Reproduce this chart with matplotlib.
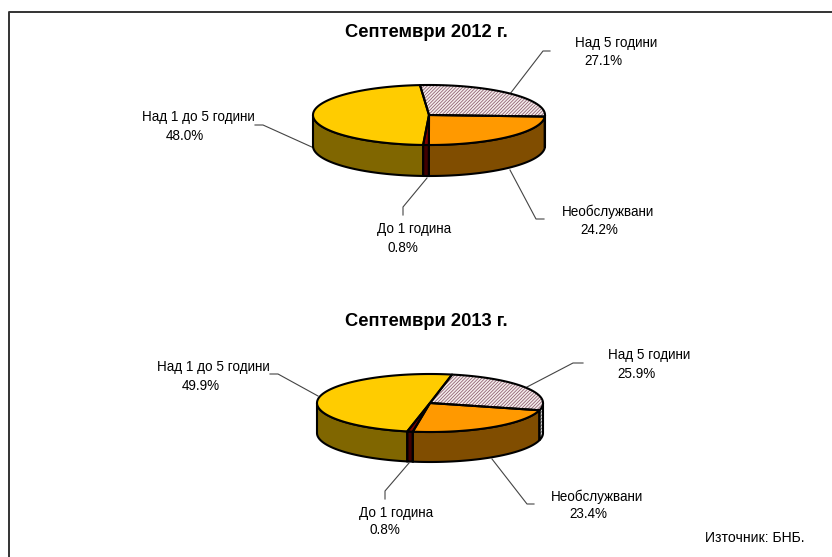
import numpy as np
import matplotlib
matplotlib.use("Agg")
import matplotlib.pyplot as plt
from matplotlib.patches import Polygon

plt.rcParams['font.family'] = ['Liberation Sans', 'DejaVu Sans']
plt.rcParams['hatch.linewidth'] = 0.55

# Data
categories = ["Необслужвани", "До 1 година", "Над 1 до 5 години", "Над 5 години"]
values_2012 = [24.2, 0.8, 48.0, 27.1]
values_2013 = [23.4, 0.8, 49.9, 25.9]
title_2012 = "Септември 2012 г."
title_2013 = "Септември 2013 г."
source = "Източник: БНБ."

top_colors = ["#FF9900", "#800000", "#FFCC00", "#F4ECEC"]
side_colors = ["#804D00", "#400000", "#806600", "#E0E0E0"]
hatch_top = "#8A5A6A"
hatch_side = "#555555"
HATCH = "/" * 10


def ell(cx, cy, rx, ry, deg):
    t = np.radians(deg)
    return np.column_stack([cx + rx * np.cos(t), cy - ry * np.sin(t)])


def pie3d(ax, values, cx, cy, rx, ry, depth, start):
    total = sum(values)
    edges = [start]
    for v in values:
        edges.append(edges[-1] - 360.0 * v / total)
    # side walls: only the front half of the ellipse (180..360 deg) is visible
    for i in range(len(values)):
        a0, a1 = edges[i + 1], edges[i]  # a0 < a1, travelling ccw
        for k in (-1, 0, 1):
            lo = max(a0 + 360 * k, -180)
            hi = min(a1 + 360 * k, 0)
            if hi <= lo:
                continue
            t = np.linspace(lo, hi, 60)
            up = ell(cx, cy, rx, ry, t)
            dn = up[::-1] + np.array([0, depth])
            pts = np.vstack([up, dn])
            hatched = i == 3
            ax.add_patch(Polygon(pts, closed=True, facecolor=side_colors[i],
                                 edgecolor=hatch_side if hatched else "none",
                                 hatch=HATCH if hatched else None, lw=0, zorder=2))
            ax.add_patch(Polygon(pts, closed=True, fill=False, edgecolor="black",
                                 lw=1.5, zorder=3))
    # top faces
    for i in range(len(values)):
        t = np.linspace(edges[i + 1], edges[i], 120)
        pts = np.vstack([[cx, cy], ell(cx, cy, rx, ry, t)])
        hatched = i == 3
        ax.add_patch(Polygon(pts, closed=True, facecolor=top_colors[i],
                             edgecolor=hatch_top if hatched else "none",
                             hatch=HATCH if hatched else None, lw=0, zorder=4))
        ax.add_patch(Polygon(pts, closed=True, fill=False, edgecolor="black",
                             lw=1.5, joinstyle="round", zorder=5))


fig = plt.figure(figsize=(8.32, 5.57), dpi=100, facecolor="white")
ax = fig.add_axes([0, 0, 1, 1])
ax.set_xlim(0, 832)
ax.set_ylim(557, 0)
ax.axis("off")

# frame (left and top only)
ax.plot([8.5, 8.5, 832], [557, 12, 12], color="#333333", lw=1.4, zorder=1)

pie3d(ax, values_2012, 429, 115, 116, 30, 31, -3)
pie3d(ax, values_2013, 430, 403, 113, 29, 30, -14.5)

leader = dict(color="#444444", lw=0.8, zorder=1.5)
for xs, ys in [
    ([510.7, 543, 550], [93, 51, 51]),
    ([255, 263, 314], [125, 125, 148]),
    ([427, 403, 403], [178, 207, 215]),
    ([510, 536, 544], [170, 219, 219]),
    ([527, 573, 583], [387, 363, 363]),
    ([270, 278, 318], [374, 374, 396]),
    ([409, 385, 385], [463, 491, 499]),
    ([492, 527, 534], [459, 504, 504]),
]:
    ax.plot(xs, ys, **leader)


def pct(v):
    return f"{v:.1f}%"


fs = 9.75
labels = [
    (categories[3], values_2012[3], 575, 43, 584, 61),
    (categories[2], values_2012[2], 142, 117.5, 166, 135.5),
    (categories[1], values_2012[1], 377, 228.5, 387, 247.5),
    (categories[0], values_2012[0], 562, 211.5, 580, 229.5),
    (categories[3], values_2013[3], 608, 354.5, 617, 373.5),
    (categories[2], values_2013[2], 157, 366.5, 182, 385.5),
    (categories[1], values_2013[1], 359, 512.5, 369, 530.5),
    (categories[0], values_2013[0], 551, 496.5, 569, 514.5),
]
for name, val, x1, y1, x2, y2 in labels:
    ax.text(x1, y1, name, fontsize=fs, ha="left", va="center", color="black")
    ax.text(x2, y2, pct(val), fontsize=fs, ha="left", va="center", color="black")

ax.text(426, 32.5, title_2012, fontsize=13.2, fontweight="bold", ha="center", va="center")
ax.text(426, 321.5, title_2013, fontsize=13.2, fontweight="bold", ha="center", va="center")
ax.text(705, 538.5, source, fontsize=10.1, ha="left", va="center")

fig.savefig("out.png", dpi=100)
